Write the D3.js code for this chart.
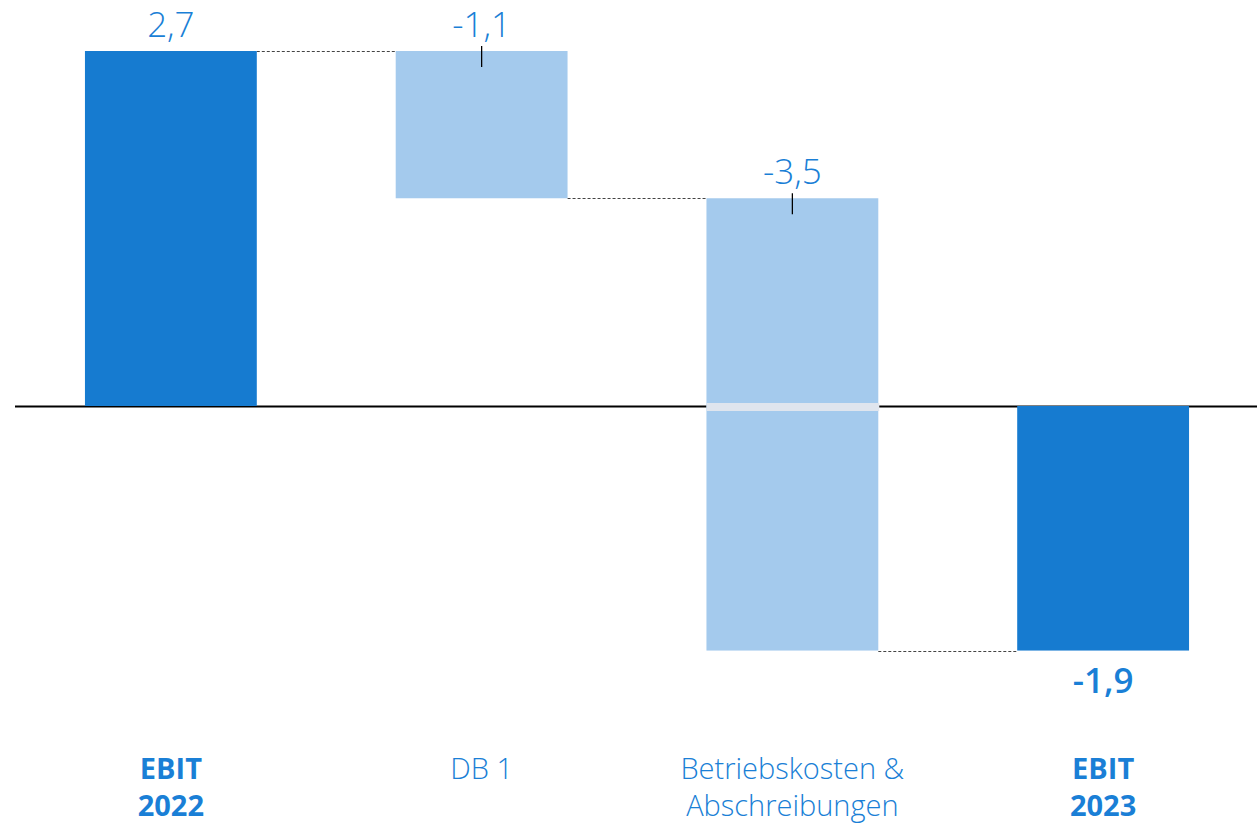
<!DOCTYPE html>
<html lang="de">
<head>
    <meta charset="UTF-8">
    <title>EBIT Bridge</title>
    <script src="https://d3js.org/d3.v7.min.js"></script>
    <style>
        body { margin: 0; background: #fff; }
        svg { display: block; font-family: "Open Sans", "Noto Sans", sans-serif; }
    </style>
</head>
<body>
    <div id="chart"></div>
    <script>
        // categories and values (Mio. EUR)
        const categories = ["EBIT 2022", "DB 1", "Betriebskosten & Abschreibungen", "EBIT 2023"];
        const labelLines = [["EBIT", "2022"], ["DB 1"], ["Betriebskosten &", "Abschreibungen"], ["EBIT", "2023"]];
        const isTotal = [true, false, false, true];
        const startValue = 2.7;
        const deltas = [-1.12, -3.44];
        const valueLabels = ["2,7", "-1,1", "-3,5", "-1,9"];

        const W = 1257, H = 824;
        const dark = "#167bd0", light = "#a4caed", textColor = "#1a7fd6";

        // build waterfall steps
        const steps = [];
        let run = startValue;
        steps.push({ cat: categories[0], y0: 0, y1: startValue });
        deltas.forEach((d, i) => {
            steps.push({ cat: categories[i + 1], y0: run, y1: run + d });
            run += d;
        });
        steps.push({ cat: categories[3], y0: 0, y1: run });

        const svg = d3.select("#chart").append("svg")
            .attr("width", W).attr("height", H);

        const x = d3.scaleBand().domain(categories)
            .range([15.5, 1258.5]).paddingInner(0.447).paddingOuter(0.2235);
        const y = d3.scaleLinear().domain([0, 2.7]).range([406, 51]);

        // zero line
        svg.append("line")
            .attr("x1", 15).attr("x2", W)
            .attr("y1", y(0) + 0.5).attr("y2", y(0) + 0.5)
            .attr("stroke", "#000").attr("stroke-width", 2);

        // connectors
        for (let i = 0; i < steps.length - 1; i++) {
            const lvl = steps[i].y1;
            svg.append("line")
                .attr("x1", x(steps[i].cat) + x.bandwidth())
                .attr("x2", x(steps[i + 1].cat))
                .attr("y1", Math.round(y(lvl)) + 0.5).attr("y2", Math.round(y(lvl)) + 0.5)
                .attr("stroke", "#444").attr("stroke-width", 1)
                .attr("stroke-dasharray", "3,2");
        }

        // bars
        svg.selectAll("rect.bar").data(steps).enter().append("rect")
            .attr("class", "bar")
            .attr("x", d => x(d.cat))
            .attr("width", x.bandwidth())
            .attr("y", d => y(Math.max(d.y0, d.y1)))
            .attr("height", d => Math.abs(y(d.y0) - y(d.y1)))
            .attr("fill", (d, i) => isTotal[i] ? dark : light);

        // pale band where a bar crosses zero
        steps.forEach((d, i) => {
            if (!isTotal[i] && Math.min(d.y0, d.y1) < 0 && Math.max(d.y0, d.y1) > 0) {
                svg.append("rect")
                    .attr("x", x(d.cat)).attr("width", x.bandwidth() + 1)
                    .attr("y", y(0) - 3).attr("height", 8)
                    .attr("fill", "#dfe5ee");
            }
        });

        // value labels
        steps.forEach((d, i) => {
            const cx = x(d.cat) + x.bandwidth() / 2;
            if (i === 0) {
                svg.append("text").attr("x", cx).attr("y", y(d.y1) - 14)
                    .attr("text-anchor", "middle").attr("fill", textColor)
                    .attr("font-size", 35).attr("font-weight", 350)
                    .text(valueLabels[i]);
            } else if (!isTotal[i]) {
                const top = y(Math.max(d.y0, d.y1));
                svg.append("line").attr("x1", cx).attr("x2", cx)
                    .attr("y1", top - 5).attr("y2", top + 16)
                    .attr("stroke", "#000").attr("stroke-width", 1.3);
                svg.append("text").attr("x", cx).attr("y", top - 14)
                    .attr("text-anchor", "middle").attr("fill", textColor)
                    .attr("font-size", 35).attr("font-weight", 350)
                    .text(valueLabels[i]);
            } else {
                svg.append("text").attr("x", cx).attr("y", y(d.y1) + 42)
                    .attr("text-anchor", "middle").attr("fill", textColor)
                    .attr("font-size", 35).attr("font-weight", 600)
                    .text(valueLabels[i]);
            }
        });

        // category labels
        categories.forEach((c, i) => {
            const t = svg.append("text")
                .attr("x", x(c) + x.bandwidth() / 2).attr("y", 779)
                .attr("text-anchor", "middle").attr("fill", textColor)
                .attr("font-size", 29).attr("font-weight", isTotal[i] ? 700 : 350);
            labelLines[i].forEach((line, j) => {
                t.append("tspan").attr("x", x(c) + x.bandwidth() / 2)
                    .attr("dy", j === 0 ? 0 : 37).text(line);
            });
        });
    </script>
</body>
</html>
